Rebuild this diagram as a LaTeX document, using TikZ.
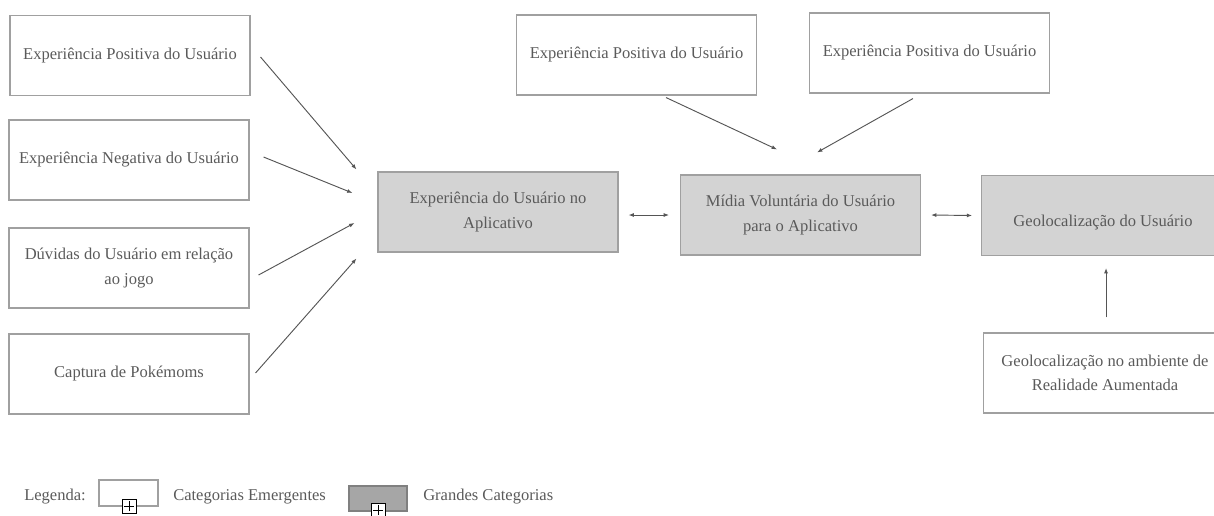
\documentclass[tikz,border=0pt]{standalone}
\usepackage{fontspec}
\setmainfont{Liberation Serif}
\usetikzlibrary{arrows.meta}

\definecolor{boxline}{HTML}{A0A0A0}
\definecolor{boxfill}{HTML}{D3D3D3}
\definecolor{legfill}{HTML}{A6A6A6}
\definecolor{txtgray}{HTML}{5A5A5A}
\definecolor{arrgray}{HTML}{555555}

\tikzset{
  catbox/.style={draw=boxline,line width=0.8pt,minimum width=180pt,minimum height=60pt,
    inner sep=0pt,align=center,text=txtgray,font=\fontsize{12.4}{18.5}\selectfont},
  bigcat/.style={catbox,fill=boxfill},
  arr/.style={draw=arrgray,line width=0.7pt,-{Latex[length=4pt,width=3pt]}},
  biarr/.style={arr,{Latex[length=4pt,width=3pt]}-{Latex[length=4pt,width=3pt]}},
  legtext/.style={anchor=west,inner sep=0pt,text=txtgray,font=\fontsize{12.4}{15}\selectfont},
  plusbox/.style={draw=black,fill=white,line width=0.6pt,minimum size=10.5pt,inner sep=0pt,
    path picture={
      \draw[black,line width=0.6pt] ([yshift=-1.8pt]path picture bounding box.north) -- ([yshift=1.8pt]path picture bounding box.south);
      \draw[black,line width=0.6pt] ([xshift=1.8pt]path picture bounding box.west) -- ([xshift=-1.8pt]path picture bounding box.east);
    }}
}

\begin{document}
\begin{tikzpicture}[x=0.75pt,y=-0.75pt]
  \useasboundingbox (0,0) rectangle (1214,515);
  \clip (0,0) rectangle (1214,515);

  % emergent categories on the left
  \node[catbox] (pos1) at (130,55.5) {Experiência Positiva do Usuário};
  \node[catbox] (neg) at (129,160) {Experiência Negativa do Usuário};
  \node[catbox] (duv) at (129,268) {Dúvidas do Usuário em relação\\ao jogo};
  \node[catbox] (cap) at (129,374) {Captura de Pokémoms};

  % emergent categories on top
  \node[catbox] (pos2) at (636.5,55) {Experiência Positiva do Usuário};
  \node[catbox] (pos3) at (929.5,53) {Experiência Positiva do Usuário};

  % big categories
  \node[bigcat] (expapp) at (498,212) {Experiência do Usuário no\\Aplicativo};
  \node[bigcat] (midia) at (800.5,215) {Mídia Voluntária do Usuário\\para o Aplicativo};
  \node[bigcat,minimum width=182pt,text height=20pt,text depth=2.8pt] (geo) at (1103,215.5) {Geolocalização do Usuário};

  \node[catbox,minimum width=182pt] (geora) at (1105,373) {Geolocalização no ambiente de\\Realidade Aumentada};

  \draw[arr] ([shift={(10,1.5)}]pos1.east) -- ([shift={(-21,-2)}]expapp.north west);
  \draw[arr] ([shift={(14,-3)}]neg.east) -- ([shift={(-25,-19)}]expapp.west);
  \draw[arr] ([shift={(9,7)}]duv.east) -- ([shift={(-23,11)}]expapp.west);
  \draw[arr] ([shift={(6,-1)}]cap.east) -- ([shift={(-21,6)}]expapp.south west);

  \draw[arr] ([shift={(29.5,2)}]pos2.south) -- ([shift={(-23.5,-25)}]midia.north);
  \draw[arr] ([shift={(-16.5,5)}]pos3.south) -- ([shift={(16.5,-22)}]midia.north);

  \draw[biarr] ([shift={(10,3)}]expapp.east) -- ([shift={(-11,0)}]midia.west);
  \draw[biarr] ([shift={(10,0)}]midia.east) -- ([shift={(-9,0)}]geo.west);

  \draw[arr] ([shift={(1,-15)}]geora.north) -- ([shift={(3,12)}]geo.south);

  % legend
  \node[legtext] (legenda) at (24,497) {Legenda:};
  \node[draw=boxline,line width=0.8pt,minimum width=44.25pt,minimum height=19.5pt,inner sep=0pt] (legwhite) at (128.5,493) {};
  \node[plusbox] (plus1) at (129,506) {};
  \node[legtext] (emerg) at (173,497) {Categorias Emergentes};
  \node[draw=boxline!80!black,fill=legfill,line width=0.8pt,minimum width=43.5pt,minimum height=18.75pt,inner sep=0pt] (leggray) at (378,498.5) {};
  \node[plusbox] (plus2) at (378,510) {};
  \node[legtext] (grandes) at (423,497) {Grandes Categorias};

\end{tikzpicture}
\end{document}
